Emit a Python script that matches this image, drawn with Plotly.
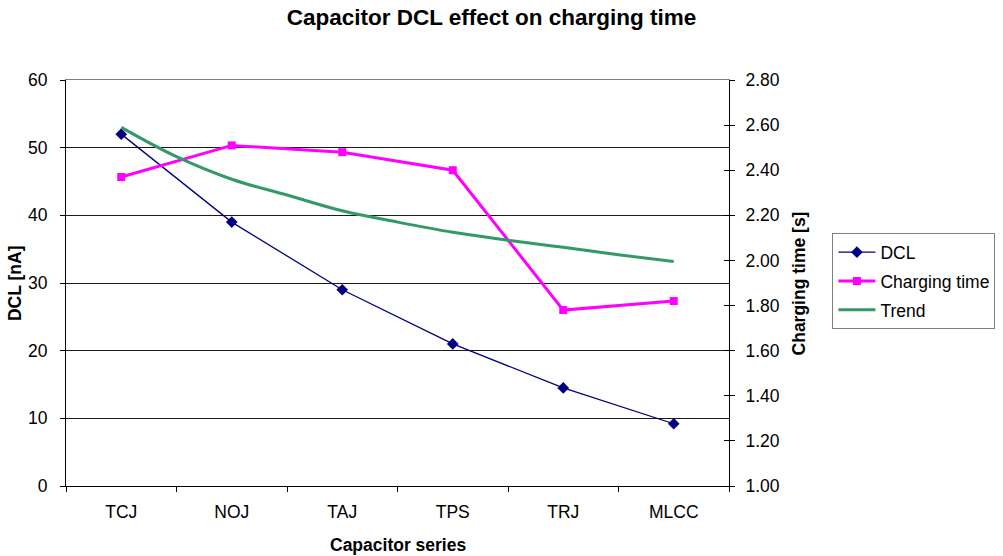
import plotly.graph_objects as go

categories = ["TCJ", "NOJ", "TAJ", "TPS", "TRJ", "MLCC"]
dcl_na = [52, 39, 29, 21, 14.5, 9.2]
charging_s = [2.37, 2.51, 2.48, 2.40, 1.78, 1.82]
# Trend line values at every half category step
trend_pos = [0, 0.5, 1, 1.5, 2, 2.5, 3, 3.5, 4, 4.5, 5]
trend_s = [2.59, 2.46, 2.36, 2.29, 2.22, 2.17, 2.125, 2.09, 2.058, 2.025, 1.995]

FONT = "Liberation Sans, Arial, sans-serif"
TS = 17.5

fig = go.Figure()
fig.add_trace(go.Scatter(
    x=categories, y=dcl_na, name="DCL", mode="lines+markers",
    line=dict(color="#000080", width=1.3),
    marker=dict(symbol="diamond", size=9, color="#000080"),
    legendgroup="a", xaxis="x", yaxis="y"))
fig.add_trace(go.Scatter(
    x=categories, y=charging_s, name="Charging time", mode="lines+markers",
    line=dict(color="#FF00FF", width=3),
    marker=dict(symbol="square", size=8, color="#FF00FF"),
    legendgroup="b", xaxis="x", yaxis="y2"))
fig.add_trace(go.Scatter(
    x=trend_pos, y=trend_s, name="Trend", mode="lines",
    line=dict(color="#339966", width=3, shape="spline"),
    legendgroup="c", xaxis="x2", yaxis="y2"))
# dummy trace so the helper axes (inner right ticks, top border) are drawn
fig.add_trace(go.Scatter(x=[None], y=[None], xaxis="x3", yaxis="y3",
                         showlegend=False, hoverinfo="skip"))

axis_font = dict(family=FONT, size=TS, color="black")

fig.update_layout(
    width=1003, height=556,
    margin=dict(l=66, r=273.5, t=79.5, b=70, autoexpand=False),
    paper_bgcolor="white", plot_bgcolor="white",
    font=dict(family=FONT, color="black"),
    title=dict(text="<b>Capacitor DCL effect on charging time</b>",
               x=0.49, xanchor="center", y=1 - 17 / 556, yanchor="middle",
               font=dict(family=FONT, size=22.5, color="black")),
    xaxis=dict(type="category", range=[-0.5, 5.5], tickson="boundaries",
               ticks="outside", ticklen=5, tickcolor="black",
               showline=True, linecolor="black", linewidth=1,
               showgrid=False, tickfont=axis_font, ticklabelstandoff=10,
               fixedrange=True),
    xaxis2=dict(overlaying="x", range=[-0.5, 5.5], visible=False),
    xaxis3=dict(overlaying="x", side="top", range=[-0.5, 5.5],
                showline=True, linecolor="#808080", linewidth=1,
                ticks="", showticklabels=False, showgrid=False,
                zeroline=False),
    yaxis=dict(range=[0, 60], dtick=10, ticks="outside", ticklen=5,
               tickcolor="black", showline=True, linecolor="black",
               linewidth=1, showgrid=True, gridcolor="#1a1a1a", gridwidth=1,
               zeroline=False, tickfont=axis_font, ticklabelstandoff=9),
    yaxis2=dict(overlaying="y", side="right", range=[1.0, 2.8], dtick=0.2,
                tickformat=".2f", ticks="outside", ticklen=5,
                tickcolor="black", showline=True, linecolor="black",
                linewidth=1, showgrid=False, zeroline=False,
                tickfont=axis_font, ticklabelstandoff=7),
    yaxis3=dict(overlaying="y", side="right", range=[1.0, 2.8], dtick=0.2,
                ticks="inside", ticklen=5, tickcolor="black",
                showticklabels=False, showgrid=False, zeroline=False,
                showline=False),
    legend=dict(x=(833 - 66) / 663.5, xanchor="left",
                y=(486 - 233) / 406.5, yanchor="top",
                bordercolor="#808080", borderwidth=1, bgcolor="white",
                font=dict(family=FONT, size=17.5, color="black"),
                traceorder="grouped", tracegroupgap=3, itemwidth=37),
    showlegend=True,
    annotations=[
        dict(text="<b>DCL [nA]</b>", xref="paper", yref="paper",
             x=(15 - 66) / 663.5, y=0.5, xanchor="center", yanchor="middle",
             textangle=-90, showarrow=False,
             font=dict(family=FONT, size=TS, color="black")),
        dict(text="<b>Charging time [s]</b>", xref="paper", yref="paper",
             x=(800 - 66) / 663.5, y=0.5, xanchor="center", yanchor="middle",
             textangle=-90, showarrow=False,
             font=dict(family=FONT, size=TS, color="black")),
        dict(text="<b>Capacitor series</b>", xref="paper", yref="paper",
             x=0.5, y=-(545 - 486) / 406.5, xanchor="center",
             yanchor="middle", showarrow=False,
             font=dict(family=FONT, size=TS, color="black")),
    ],
)

fig.write_html("out.html", config={"displayModeBar": False},
               post_script="document.body.style.margin='0px';")
